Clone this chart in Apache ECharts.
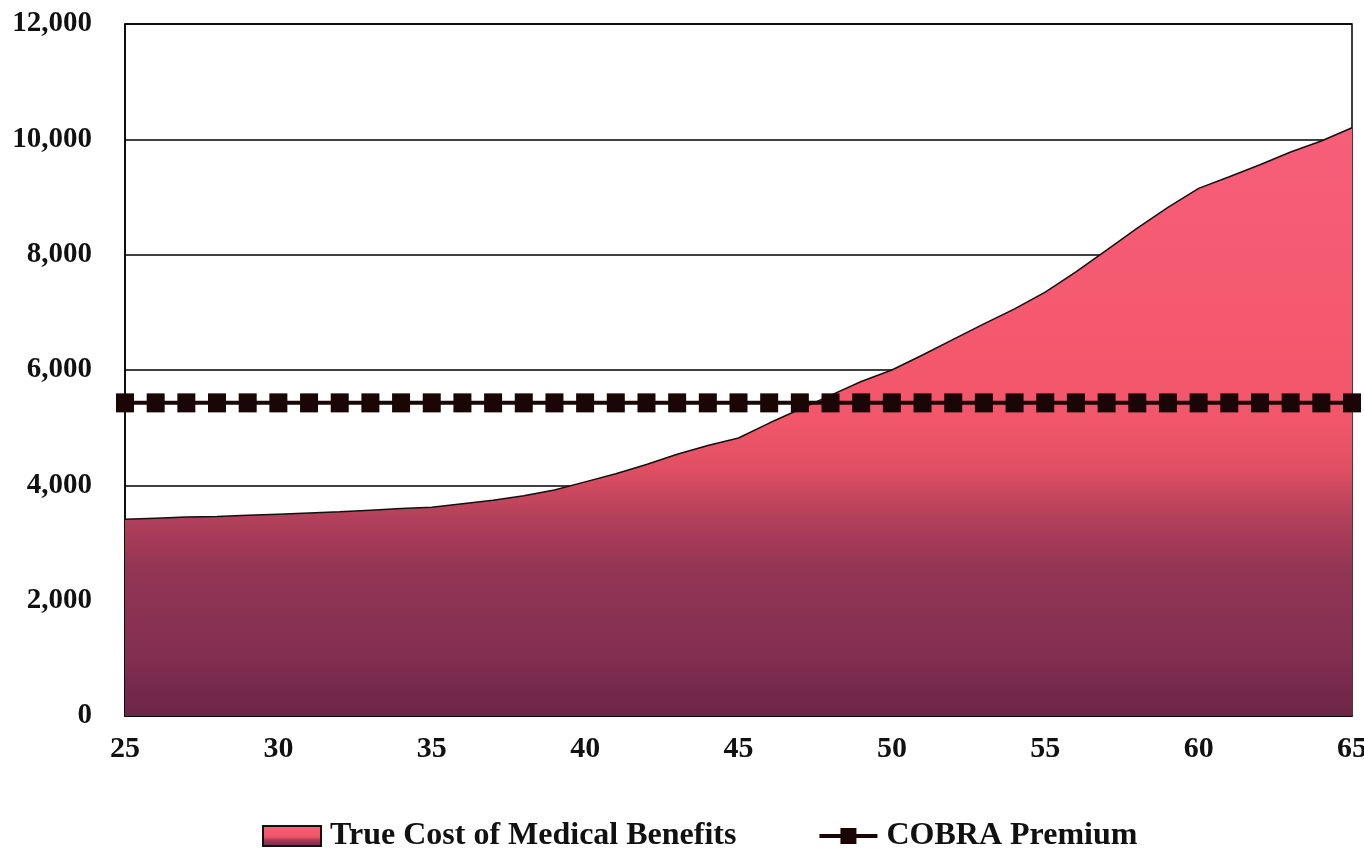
<!DOCTYPE html>
<html>
<head>
<meta charset="utf-8">
<title>True Cost of Medical Benefits vs COBRA Premium</title>
<script src="https://cdn.jsdelivr.net/npm/echarts@6/dist/echarts.min.js"></script>
<style>
  html, body { margin: 0; padding: 0; background: #ffffff; }
  #chart { width: 1364px; height: 854px; }
</style>
</head>
<body>
<div id="chart"></div>
<script>
// Age of the employee (x axis)
const ages = [25, 26, 27, 28, 29, 30, 31, 32, 33, 34, 35, 36, 37, 38, 39, 40,
              41, 42, 43, 44, 45, 46, 47, 48, 49, 50, 51, 52, 53, 54, 55,
              56, 57, 58, 59, 60, 61, 62, 63, 64, 65];

// Annual true cost of medical benefits by age
const trueCost = [3410, 3430, 3450, 3460, 3480, 3500, 3520, 3540, 3570, 3600, 3620,
                  3680, 3740, 3820, 3920, 4060, 4200, 4360, 4540, 4690, 4820,
                  5080, 5320, 5560, 5800, 6000, 6260, 6530, 6800, 7060, 7350,
                  7700, 8080, 8460, 8820, 9150, 9350, 9560, 9780, 9970, 10200];

// Annual COBRA premium (flat across ages)
const cobraPremium = [5430, 5430, 5430, 5430, 5430, 5430, 5430, 5430, 5430, 5430, 5430,
                      5430, 5430, 5430, 5430, 5430, 5430, 5430, 5430, 5430, 5430,
                      5430, 5430, 5430, 5430, 5430, 5430, 5430, 5430, 5430, 5430,
                      5430, 5430, 5430, 5430, 5430, 5430, 5430, 5430, 5430, 5430];

const seriesNames = ['True Cost of Medical Benefits', 'COBRA Premium'];

const FONT = '"Liberation Serif", "Times New Roman", serif';
const INK = '#1a0606';

// Pink at the top of the area, deepening to maroon toward the baseline
function costGradient() {
  return new echarts.graphic.LinearGradient(0, 0, 0, 1, [
    { offset: 0.00, color: '#f75e78' },
    { offset: 0.50, color: '#f2566a' },
    { offset: 0.58, color: '#e04f63' },
    { offset: 0.66, color: '#b3405a' },
    { offset: 0.75, color: '#933555' },
    { offset: 0.90, color: '#832f51' },
    { offset: 0.95, color: '#76294a' },
    { offset: 1.00, color: '#6e2645' }
  ]);
}

const chart = echarts.init(document.getElementById('chart'), null, { renderer: 'canvas' });

chart.setOption({
  backgroundColor: '#ffffff',
  animation: false,
  grid: {
    left: 125, right: 12, top: 24, bottom: 138,
    outerBoundsMode: 'none',
    show: true, borderColor: '#000', borderWidth: 1.5, backgroundColor: 'transparent'
  },
  xAxis: {
    type: 'value',
    min: 25, max: 65, interval: 5,
    axisLine: { show: true, lineStyle: { color: '#000', width: 1.5 } },
    axisTick: { show: false },
    splitLine: { show: false },
    axisLabel: {
      margin: 18,
      color: '#111',
      fontFamily: FONT, fontWeight: 'bold', fontSize: 30
    }
  },
  yAxis: {
    type: 'value',
    min: 0, max: 12000, interval: 2000,
    axisLine: { show: true, lineStyle: { color: '#000', width: 1.5 } },
    axisTick: { show: false },
    splitLine: { show: true, lineStyle: { color: '#000', width: 1.5 } },
    axisLabel: {
      margin: 33,
      color: '#111',
      fontFamily: FONT, fontWeight: 'bold', fontSize: 29,
      formatter: v => v.toLocaleString('en-US')
    }
  },
  legend: {
    left: 257, top: 815,
    itemWidth: 58, itemHeight: 20, itemGap: 81,
    textStyle: { fontFamily: FONT, fontWeight: 'bold', fontSize: 32, color: '#111', padding: [0, 0, 0, 4] },
    data: [
      { name: seriesNames[0], icon: 'rect',
        itemStyle: { color: costGradient(), borderColor: '#111', borderWidth: 2 } },
      { name: seriesNames[1],
        lineStyle: { color: INK, width: 4 },
        itemStyle: { color: INK } }
    ]
  },
  series: [
    {
      name: seriesNames[0],
      type: 'line',
      data: ages.map((a, i) => [a, trueCost[i]]),
      showSymbol: false,
      symbol: 'none',
      lineStyle: { color: '#111', width: 1.5 },
      itemStyle: { color: '#f2586d' },
      areaStyle: { color: costGradient(), opacity: 1 },
      z: 2
    },
    {
      name: seriesNames[1],
      type: 'line',
      data: ages.map((a, i) => [a, cobraPremium[i]]),
      symbol: 'rect',
      symbolSize: [18, 19],
      showAllSymbol: true,
      lineStyle: { color: INK, width: 4 },
      itemStyle: { color: INK },
      z: 3
    }
  ]
});
</script>
</body>
</html>
